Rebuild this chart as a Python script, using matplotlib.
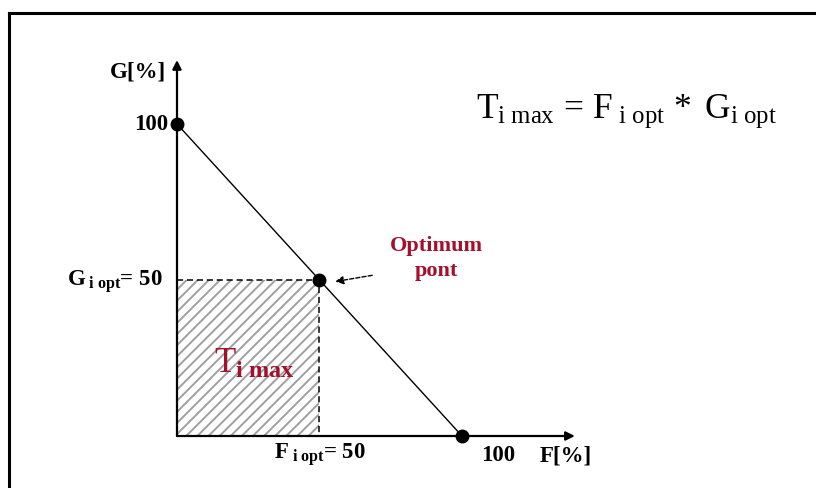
' Throughput diagram: T max as the product of the optimum F and G shares '
import matplotlib
matplotlib.use('Agg')
import matplotlib.pyplot as plt
from matplotlib.lines import Line2D
from matplotlib.patches import Rectangle

plt.rcParams['font.family'] = ['Liberation Serif', 'DejaVu Serif']
plt.rcParams['mathtext.fontset'] = 'custom'
plt.rcParams['mathtext.rm'] = 'Liberation Serif'
plt.rcParams['mathtext.bf'] = 'Liberation Serif:bold'
plt.rcParams['mathtext.it'] = 'Liberation Serif:italic'
plt.rcParams['hatch.linewidth'] = 1.4

# trade-off line and the chosen operating point (percent)
line_f = [0, 100]
line_g = [100, 0]
f_opt = 50
g_opt = 50
axis_max = 100

red = '#a3102c'
hatch_grey = '#a0a0a0'
label_size = 16.5

fig = plt.figure(figsize=(8.16, 4.88), dpi=100)
ax = fig.add_axes([0, 0, 1, 1])
# 0..100 spans 285 px horizontally and 312 px vertically
ax.set_xlim(-177 / 2.85, (816 - 177) / 2.85)
ax.set_ylim(-52 / 3.12, (488 - 52) / 3.12)
ax.axis('off')

# outer frame (top and left edges only)
fig.add_artist(Line2D([8.5 / 816, 8.5 / 816], [0, 1 - 12.5 / 488], color='black', lw=2.2))
fig.add_artist(Line2D([8.5 / 816, 1], [1 - 12.5 / 488, 1 - 12.5 / 488], color='black', lw=2.2))

# axes with arrow heads
arrow = dict(arrowstyle='-|>', color='black', lw=1.6, mutation_scale=13, shrinkA=0, shrinkB=0)
ax.annotate('', xy=(0, 120.5), xytext=(0, 0), arrowprops=arrow)
ax.annotate('', xy=(139.6, 0), xytext=(0, 0), arrowprops=arrow)

# hatched area T max = F opt * G opt
ax.add_patch(Rectangle((0, 0), f_opt, g_opt, facecolor='none', edgecolor=hatch_grey,
                       hatch='///', lw=0))
ax.plot([0, f_opt, f_opt], [g_opt, g_opt, 0], color='black', lw=1.1, ls=(0, (4, 2.5)))

ax.plot(line_f, line_g, color='black', lw=1.0)
ax.plot([0, f_opt, axis_max], [axis_max, g_opt, 0], 'o', color='black', ms=9)

# pointer to the optimum point
ax.annotate('', xy=(55.5, 49.5), xytext=(68.5, 51.5),
            arrowprops=dict(arrowstyle='-|>', color='black', lw=1.0, mutation_scale=12,
                            shrinkA=0, shrinkB=0, linestyle=(0, (3, 1.5))))
ax.text(91.2, 56.8, 'Optimum\npont', color=red, fontsize=16, fontweight='bold',
        ha='center', va='center', linespacing=1.35)

# axis labels
ax.text(-13.7, 116.7, 'G[%]', fontsize=label_size, fontweight='bold', ha='center', va='center')
ax.text(-3.0, 100, '100', fontsize=label_size, fontweight='bold', ha='right', va='center')
ax.text(-4.9, 49.5, r'$\mathbf{G}_{\mathbf{\ i\ opt}}$' + '= 50', fontsize=label_size,
        fontweight='bold', ha='right', va='center')
ax.text(f_opt, -6.0, r'$\mathbf{F}_{\mathbf{\ i\ opt}}$' + '= 50', fontsize=label_size,
        fontweight='bold', ha='center', va='center')
ax.text(112.6, -6.4, '100', fontsize=label_size, fontweight='bold', ha='center', va='center')
ax.text(136.5, -6.4, 'F[%]', fontsize=label_size, fontweight='bold', ha='center', va='center')

ax.text(f_opt * 0.54, g_opt * 0.46, r'$\mathrm{T}_{\mathbf{i\ max}}$', color=red,
        fontsize=25, ha='center', va='center')

ax.text(104.9, 104.0,
        r'$\mathrm{T}_{\mathrm{i\ max}}\,=\,\mathrm{F}_{\ \mathrm{i\ opt}}\,*\ \mathrm{G}_{\mathrm{i\ opt}}$',
        fontsize=25.5, ha='left', va='center')

fig.savefig('out.png', dpi=100)
